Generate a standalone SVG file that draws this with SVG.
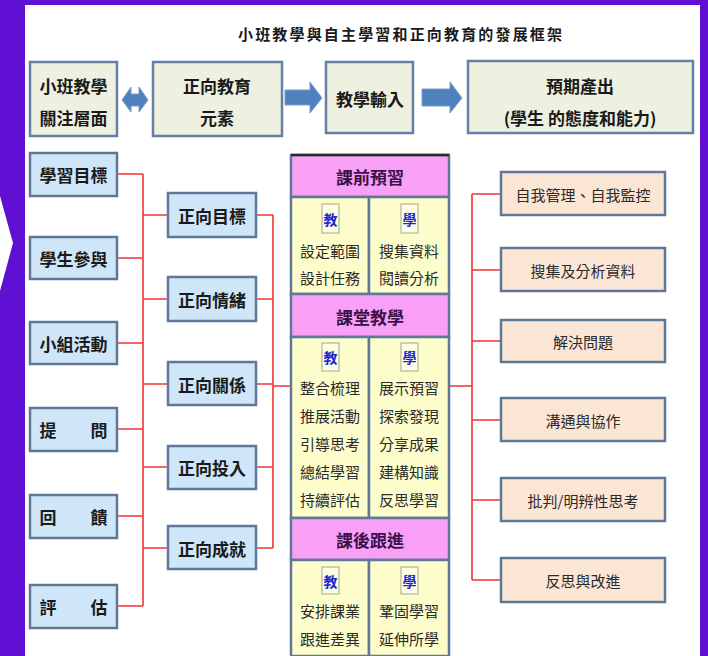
<svg xmlns="http://www.w3.org/2000/svg" width="708" height="656" viewBox="0 0 708 656">
<style>
.t{font-family:"Noto Sans CJK TC","Noto Sans CJK SC",sans-serif;fill:#1a1a1a;text-anchor:middle;dominant-baseline:central}
.b{font-weight:700;font-size:17px}
.c{font-size:15px;fill:#2a2a2a}
.h{font-weight:700;font-size:17px;fill:#3a1048}
.k{font-weight:700;font-size:14px;fill:#1a28d8}
.top{fill:#eef0e0;stroke:#6580a6;stroke-width:2.5}
.lb{fill:#cfe6f8;stroke:#5f7799;stroke-width:2.5}
.rb{fill:#fbe6d6;stroke:#5f7799;stroke-width:2.5}
.hd{fill:#f8a0f6;stroke:#5f7799;stroke-width:2.5}
.ct{fill:#fdfdcc;stroke:#5f7799;stroke-width:2.5}
.kb{fill:#fdfde4;stroke:#a8a888;stroke-width:1}
.ar{fill:#4f81bd;stroke:#7a9ccc;stroke-width:1}
.ln{stroke:#f03434;stroke-width:1.6;fill:none}
</style>
<rect x="0" y="0" width="708" height="656" fill="#5f10d2"/>
<polygon points="0,196 13,243 0,291" fill="#ffffff"/>
<rect x="25" y="5" width="675" height="651" fill="#ffffff"/>
<text class="t" x="400" y="33" font-size="15" textLength="324" lengthAdjust="spacing" font-weight="700">小班教學與自主學習和正向教育的發展框架</text>

<g id="connectors">
<polygon class="ar" points="122,100 131,87 131,94 139,94 139,87 148,100 139,112 139,106 131,106 131,112"/>
<polygon class="ar" points="285,90 310,90 310,82 322,98 310,113 310,105 285,105"/>
<polygon class="ar" points="422,89 450,89 450,82 462,98 450,113 450,106 422,106"/>
<path class="ln" d="M117,174H143M117,258H143M117,343H143M117,429H143M117,516H143M117,606H143M143,174V606"/>
<path class="ln" d="M143,215H168M143,299H168M143,384H168M143,467H168M143,548H168"/>
<path class="ln" d="M256,215H273M256,299H273M256,384H273M256,467H273M256,548H273M273,215V548M273,386H291"/>
<path class="ln" d="M449,386H472M472,194V580M472,194H501M472,270H501M472,341H501M472,420H501M472,500H501M472,580H501"/>
</g>

<g id="n-focus"><rect class="top" x="30" y="62" width="87" height="74"/><text class="t b" x="73.5" y="85">小班教學</text><text class="t b" x="73.5" y="117">關注層面</text></g>
<g id="n-elements"><rect class="top" x="153" y="62" width="129" height="74"/><text class="t b" x="217" y="85">正向教育</text><text class="t b" x="217" y="117">元素</text></g>
<g id="n-input"><rect class="top" x="326" y="62" width="87" height="71"/><text class="t b" x="370" y="98">教學輸入</text></g>
<g id="n-output"><rect class="top" x="468" y="61" width="225" height="72"/><text class="t b" x="580" y="85">預期產出</text><text class="t b" x="580" y="117">(學生 的態度和能力)</text></g>

<g id="n-l1"><rect class="lb" x="30" y="153" width="87" height="43"/><text class="t b" x="73.5" y="174">學習目標</text></g>
<g id="n-l2"><rect class="lb" x="30" y="237" width="87" height="42"/><text class="t b" x="73.5" y="258">學生參與</text></g>
<g id="n-l3"><rect class="lb" x="30" y="322" width="87" height="42"/><text class="t b" x="73.5" y="343">小組活動</text></g>
<g id="n-l4"><rect class="lb" x="30" y="408" width="87" height="43"/><text class="t b" x="73.5" y="429">提　　問</text></g>
<g id="n-l5"><rect class="lb" x="30" y="495" width="87" height="43"/><text class="t b" x="73.5" y="516">回　　饋</text></g>
<g id="n-l6"><rect class="lb" x="30" y="585" width="87" height="43"/><text class="t b" x="73.5" y="606">評　　估</text></g>

<g id="n-m1"><rect class="lb" x="168" y="193" width="88" height="44"/><text class="t b" x="212" y="215">正向目標</text></g>
<g id="n-m2"><rect class="lb" x="168" y="277" width="88" height="44"/><text class="t b" x="212" y="299">正向情緒</text></g>
<g id="n-m3"><rect class="lb" x="168" y="362" width="88" height="43"/><text class="t b" x="212" y="384">正向關係</text></g>
<g id="n-m4"><rect class="lb" x="168" y="446" width="88" height="43"/><text class="t b" x="212" y="467">正向投入</text></g>
<g id="n-m5"><rect class="lb" x="168" y="526" width="88" height="43"/><text class="t b" x="212" y="548">正向成就</text></g>

<g id="n-pre">
<rect class="hd" x="291" y="155" width="158" height="42"/>
<line x1="291" y1="155" x2="449" y2="155" stroke="#2a2a2a" stroke-width="2.5"/>
<text class="t h" x="370" y="176">課前預習</text>
<rect class="ct" x="291" y="197" width="78" height="97"/><rect class="ct" x="369" y="197" width="80" height="97"/>
<rect class="kb" x="322" y="204" width="17" height="29"/><text class="t k" x="330.5" y="218.5">教</text>
<rect class="kb" x="401" y="204" width="17" height="29"/><text class="t k" x="409.5" y="218.5">學</text>
<text class="t c" x="330" y="250">設定範圍</text><text class="t c" x="330" y="277">設計任務</text>
<text class="t c" x="409" y="250">搜集資料</text><text class="t c" x="409" y="277">閱讀分析</text>
</g>
<g id="n-class">
<rect class="hd" x="291" y="294" width="158" height="43"/>
<text class="t h" x="370" y="316">課堂教學</text>
<rect class="ct" x="291" y="337" width="78" height="181"/><rect class="ct" x="369" y="337" width="80" height="181"/>
<rect class="kb" x="322" y="343" width="17" height="28"/><text class="t k" x="330.5" y="357">教</text>
<rect class="kb" x="401" y="343" width="17" height="28"/><text class="t k" x="409.5" y="357">學</text>
<text class="t c" x="330" y="387">整合梳理</text><text class="t c" x="330" y="415">推展活動</text><text class="t c" x="330" y="443">引導思考</text><text class="t c" x="330" y="471">總結學習</text><text class="t c" x="330" y="499">持續評估</text>
<text class="t c" x="409" y="387">展示預習</text><text class="t c" x="409" y="415">探索發現</text><text class="t c" x="409" y="443">分享成果</text><text class="t c" x="409" y="471">建構知識</text><text class="t c" x="409" y="499">反思學習</text>
</g>
<g id="n-post">
<rect class="hd" x="291" y="518" width="158" height="42"/>
<text class="t h" x="370" y="539">課後跟進</text>
<rect class="ct" x="291" y="560" width="78" height="96"/><rect class="ct" x="369" y="560" width="80" height="96"/>
<rect class="kb" x="322" y="567" width="17" height="27"/><text class="t k" x="330.5" y="580.5">教</text>
<rect class="kb" x="401" y="567" width="17" height="27"/><text class="t k" x="409.5" y="580.5">學</text>
<text class="t c" x="330" y="610">安排課業</text><text class="t c" x="330" y="638">跟進差異</text>
<text class="t c" x="409" y="610">鞏固學習</text><text class="t c" x="409" y="638">延伸所學</text>
</g>

<g id="n-r1"><rect class="rb" x="501" y="172" width="164" height="43"/><text class="t c" x="583" y="194">自我管理、自我監控</text></g>
<g id="n-r2"><rect class="rb" x="501" y="248" width="164" height="43"/><text class="t c" x="583" y="270">搜集及分析資料</text></g>
<g id="n-r3"><rect class="rb" x="501" y="320" width="164" height="42"/><text class="t c" x="583" y="341">解決問題</text></g>
<g id="n-r4"><rect class="rb" x="501" y="398" width="164" height="43"/><text class="t c" x="583" y="420">溝通與協作</text></g>
<g id="n-r5"><rect class="rb" x="501" y="478" width="164" height="43"/><text class="t c" x="583" y="500">批判/明辨性思考</text></g>
<g id="n-r6"><rect class="rb" x="501" y="558" width="164" height="44"/><text class="t c" x="583" y="580">反思與改進</text></g>
</svg>
